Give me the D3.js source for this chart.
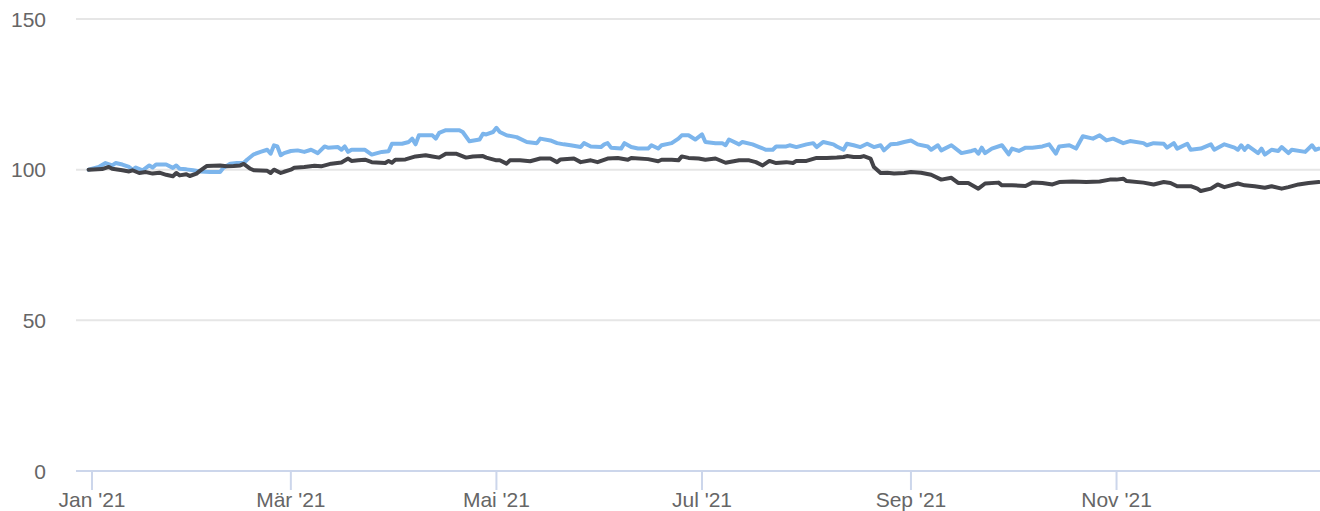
<!doctype html>
<html>
<head>
<meta charset="utf-8">
<script src="https://cdn.jsdelivr.net/npm/d3@7"></script>
<style>
  html, body { margin: 0; padding: 0; background: #fff; }
  svg { display: block; font-family: "Liberation Sans", Arial, sans-serif; }
</style>
</head>
<body>
<svg id="chart" width="1320" height="511"></svg>
<script>
// y axis ticks
var yTicks = [0, 50, 100, 150];

// x axis ticks (every second month) and their German labels
var xTickDates = ["2021-01-01", "2021-03-01", "2021-05-01", "2021-07-01", "2021-09-01", "2021-11-01"];
var xTickLabels = ["Jan '21", "Mär '21", "Mai '21", "Jul '21", "Sep '21", "Nov '21"];

// light blue series
var seriesBlue = [
  ["2020-12-31", 100.0], ["2021-01-03", 100.9], ["2021-01-05", 102.2], ["2021-01-07", 101.4], ["2021-01-08", 102.2],
  ["2021-01-10", 101.7], ["2021-01-12", 100.9], ["2021-01-13", 100.0], ["2021-01-14", 100.7], ["2021-01-16", 99.8],
  ["2021-01-18", 101.4], ["2021-01-19", 100.7], ["2021-01-20", 101.7], ["2021-01-23", 101.7], ["2021-01-25", 100.6],
  ["2021-01-26", 101.4], ["2021-01-27", 100.3], ["2021-01-29", 100.1], ["2021-01-31", 99.8], ["2021-02-02", 99.4],
  ["2021-02-05", 99.2], ["2021-02-08", 99.2], ["2021-02-09", 100.6], ["2021-02-11", 102.0], ["2021-02-13", 102.2],
  ["2021-02-15", 102.2], ["2021-02-16", 103.3], ["2021-02-18", 105.1], ["2021-02-20", 105.9], ["2021-02-22", 106.6],
  ["2021-02-23", 105.3], ["2021-02-24", 108.1], ["2021-02-25", 107.7], ["2021-02-26", 104.8], ["2021-02-27", 105.5],
  ["2021-03-01", 106.2], ["2021-03-03", 106.4], ["2021-03-05", 105.9], ["2021-03-07", 106.6], ["2021-03-09", 105.5],
  ["2021-03-11", 107.7], ["2021-03-12", 107.3], ["2021-03-15", 107.5], ["2021-03-16", 106.6], ["2021-03-17", 107.7],
  ["2021-03-18", 105.9], ["2021-03-19", 106.6], ["2021-03-23", 106.6], ["2021-03-25", 105.0], ["2021-03-28", 105.9],
  ["2021-03-30", 106.1], ["2021-03-31", 108.6], ["2021-04-03", 108.6], ["2021-04-05", 109.2], ["2021-04-06", 110.3],
  ["2021-04-07", 108.4], ["2021-04-08", 111.4], ["2021-04-12", 111.4], ["2021-04-13", 110.3], ["2021-04-14", 112.2],
  ["2021-04-16", 113.1], ["2021-04-20", 113.1], ["2021-04-21", 112.5], ["2021-04-23", 109.4], ["2021-04-26", 110.0],
  ["2021-04-27", 111.9], ["2021-04-28", 111.7], ["2021-04-30", 112.5], ["2021-05-01", 113.9], ["2021-05-02", 112.5],
  ["2021-05-04", 111.4], ["2021-05-07", 110.8], ["2021-05-10", 109.2], ["2021-05-13", 108.8], ["2021-05-14", 110.3],
  ["2021-05-17", 109.7], ["2021-05-19", 108.8], ["2021-05-21", 108.4], ["2021-05-23", 108.1], ["2021-05-26", 107.5],
  ["2021-05-27", 108.8], ["2021-05-29", 107.7], ["2021-06-01", 107.5], ["2021-06-02", 108.4], ["2021-06-03", 108.8],
  ["2021-06-04", 107.3], ["2021-06-07", 107.0], ["2021-06-08", 108.8], ["2021-06-10", 107.5], ["2021-06-12", 107.0],
  ["2021-06-15", 107.0], ["2021-06-16", 108.1], ["2021-06-18", 107.0], ["2021-06-19", 108.1], ["2021-06-22", 108.8],
  ["2021-06-24", 110.3], ["2021-06-25", 111.4], ["2021-06-27", 111.4], ["2021-06-29", 110.0], ["2021-07-01", 111.7],
  ["2021-07-02", 109.2], ["2021-07-05", 108.8], ["2021-07-07", 108.8], ["2021-07-08", 108.1], ["2021-07-09", 110.0],
  ["2021-07-12", 108.4], ["2021-07-13", 109.2], ["2021-07-16", 108.4], ["2021-07-18", 107.5], ["2021-07-20", 106.6],
  ["2021-07-22", 106.6], ["2021-07-23", 107.7], ["2021-07-26", 107.7], ["2021-07-27", 108.1], ["2021-07-29", 107.5],
  ["2021-08-01", 108.4], ["2021-08-03", 108.8], ["2021-08-04", 107.5], ["2021-08-06", 109.2], ["2021-08-09", 108.4],
  ["2021-08-10", 107.7], ["2021-08-12", 106.6], ["2021-08-13", 108.6], ["2021-08-15", 108.1], ["2021-08-17", 107.5],
  ["2021-08-19", 108.6], ["2021-08-21", 107.5], ["2021-08-23", 108.1], ["2021-08-24", 106.4], ["2021-08-26", 108.4],
  ["2021-08-28", 108.6], ["2021-08-30", 109.2], ["2021-09-01", 109.7], ["2021-09-03", 108.4], ["2021-09-06", 107.7],
  ["2021-09-07", 106.6], ["2021-09-09", 108.1], ["2021-09-10", 106.4], ["2021-09-13", 108.1], ["2021-09-16", 105.5],
  ["2021-09-19", 106.2], ["2021-09-20", 106.6], ["2021-09-21", 105.3], ["2021-09-22", 107.3], ["2021-09-23", 105.5],
  ["2021-09-25", 107.0], ["2021-09-28", 108.1], ["2021-09-30", 105.1], ["2021-10-01", 107.0], ["2021-10-03", 106.2],
  ["2021-10-05", 107.3], ["2021-10-07", 107.3], ["2021-10-10", 107.7], ["2021-10-12", 108.4], ["2021-10-14", 105.3],
  ["2021-10-15", 107.7], ["2021-10-18", 108.1], ["2021-10-20", 107.0], ["2021-10-22", 111.1], ["2021-10-25", 110.3],
  ["2021-10-27", 111.4], ["2021-10-29", 109.7], ["2021-10-31", 110.3], ["2021-11-03", 108.8], ["2021-11-05", 109.5],
  ["2021-11-09", 108.8], ["2021-11-10", 108.1], ["2021-11-12", 108.8], ["2021-11-15", 108.6], ["2021-11-16", 107.3],
  ["2021-11-18", 108.8], ["2021-11-19", 107.0], ["2021-11-22", 108.6], ["2021-11-23", 106.6], ["2021-11-26", 107.0],
  ["2021-11-29", 108.4], ["2021-11-30", 106.6], ["2021-12-03", 108.4], ["2021-12-06", 107.3], ["2021-12-07", 106.6],
  ["2021-12-08", 108.1], ["2021-12-09", 106.6], ["2021-12-10", 107.9], ["2021-12-13", 105.5], ["2021-12-14", 107.0],
  ["2021-12-15", 105.0], ["2021-12-17", 106.6], ["2021-12-19", 106.2], ["2021-12-20", 107.5], ["2021-12-22", 105.5],
  ["2021-12-23", 106.6], ["2021-12-27", 105.9], ["2021-12-29", 108.1], ["2021-12-30", 106.6], ["2021-12-31", 107.0]
];

// dark series
var seriesDark = [
  ["2020-12-31", 100.0], ["2021-01-04", 100.2], ["2021-01-06", 100.9], ["2021-01-07", 100.3], ["2021-01-10", 99.8],
  ["2021-01-12", 99.4], ["2021-01-13", 99.8], ["2021-01-15", 98.9], ["2021-01-17", 99.2], ["2021-01-19", 98.7],
  ["2021-01-21", 99.0], ["2021-01-23", 98.3], ["2021-01-25", 97.8], ["2021-01-26", 98.9], ["2021-01-27", 98.1],
  ["2021-01-29", 98.5], ["2021-01-30", 97.9], ["2021-02-01", 98.7], ["2021-02-02", 99.6], ["2021-02-04", 101.2],
  ["2021-02-08", 101.4], ["2021-02-10", 101.1], ["2021-02-12", 101.2], ["2021-02-14", 101.4], ["2021-02-15", 101.9],
  ["2021-02-17", 100.3], ["2021-02-18", 99.8], ["2021-02-22", 99.6], ["2021-02-23", 98.9], ["2021-02-24", 100.0],
  ["2021-02-26", 98.9], ["2021-02-27", 99.3], ["2021-03-01", 100.0], ["2021-03-02", 100.6], ["2021-03-05", 100.9],
  ["2021-03-08", 101.3], ["2021-03-10", 101.1], ["2021-03-13", 102.0], ["2021-03-16", 102.4], ["2021-03-18", 103.7],
  ["2021-03-19", 102.9], ["2021-03-21", 103.1], ["2021-03-23", 103.3], ["2021-03-25", 102.5], ["2021-03-29", 102.2],
  ["2021-03-30", 102.9], ["2021-03-31", 102.3], ["2021-04-01", 103.3], ["2021-04-04", 103.4], ["2021-04-07", 104.4],
  ["2021-04-10", 104.8], ["2021-04-12", 104.4], ["2021-04-14", 104.0], ["2021-04-16", 105.3], ["2021-04-19", 105.3],
  ["2021-04-22", 104.0], ["2021-04-24", 104.4], ["2021-04-27", 104.5], ["2021-04-28", 104.0], ["2021-05-01", 103.1],
  ["2021-05-02", 103.1], ["2021-05-04", 102.0], ["2021-05-05", 103.1], ["2021-05-08", 103.1], ["2021-05-11", 102.8],
  ["2021-05-14", 103.7], ["2021-05-17", 103.7], ["2021-05-19", 102.5], ["2021-05-20", 103.4], ["2021-05-24", 103.7],
  ["2021-05-26", 102.5], ["2021-05-29", 103.1], ["2021-05-31", 102.5], ["2021-06-03", 103.7], ["2021-06-06", 103.9],
  ["2021-06-09", 103.3], ["2021-06-10", 103.9], ["2021-06-15", 103.5], ["2021-06-18", 102.8], ["2021-06-19", 103.3],
  ["2021-06-22", 103.3], ["2021-06-24", 103.1], ["2021-06-25", 104.4], ["2021-06-27", 103.9], ["2021-06-30", 103.7],
  ["2021-07-02", 103.3], ["2021-07-05", 103.7], ["2021-07-08", 102.3], ["2021-07-12", 103.1], ["2021-07-15", 103.1],
  ["2021-07-17", 102.5], ["2021-07-19", 101.4], ["2021-07-21", 102.9], ["2021-07-23", 102.2], ["2021-07-26", 102.5],
  ["2021-07-28", 102.2], ["2021-07-29", 102.9], ["2021-08-01", 102.9], ["2021-08-04", 103.9], ["2021-08-07", 103.9],
  ["2021-08-10", 104.0], ["2021-08-12", 104.2], ["2021-08-13", 104.5], ["2021-08-15", 104.2], ["2021-08-17", 104.2],
  ["2021-08-18", 104.5], ["2021-08-20", 103.7], ["2021-08-21", 100.9], ["2021-08-23", 98.9], ["2021-08-25", 99.0],
  ["2021-08-27", 98.7], ["2021-08-30", 98.9], ["2021-09-01", 99.2], ["2021-09-04", 99.0], ["2021-09-07", 98.3],
  ["2021-09-10", 96.7], ["2021-09-13", 97.3], ["2021-09-15", 95.6], ["2021-09-18", 95.6], ["2021-09-21", 93.7],
  ["2021-09-23", 95.4], ["2021-09-27", 95.7], ["2021-09-28", 94.8], ["2021-10-01", 94.8], ["2021-10-05", 94.6],
  ["2021-10-07", 95.7], ["2021-10-10", 95.6], ["2021-10-13", 95.1], ["2021-10-15", 95.9], ["2021-10-19", 96.1],
  ["2021-10-23", 95.9], ["2021-10-27", 96.1], ["2021-10-30", 96.7], ["2021-11-01", 96.7], ["2021-11-03", 97.0],
  ["2021-11-04", 96.2], ["2021-11-09", 95.7], ["2021-11-12", 95.1], ["2021-11-15", 95.9], ["2021-11-17", 95.6],
  ["2021-11-19", 94.5], ["2021-11-23", 94.5], ["2021-11-25", 93.7], ["2021-11-26", 92.9], ["2021-11-29", 93.7],
  ["2021-12-01", 95.1], ["2021-12-03", 94.2], ["2021-12-07", 95.4], ["2021-12-09", 94.8], ["2021-12-12", 94.5],
  ["2021-12-15", 94.0], ["2021-12-17", 94.5], ["2021-12-20", 93.7], ["2021-12-22", 94.2], ["2021-12-25", 95.1],
  ["2021-12-28", 95.6], ["2021-12-31", 95.9]
];

(function () {
  var parse = d3.timeParse("%Y-%m-%d");
  var svg = d3.select("#chart");

  var plot = { left: 76, right: 1320, top: 19, bottom: 471 };

  // axis runs a few days before the first point, ends at the last one
  var x = d3.scaleTime()
    .domain([new Date(2020, 11, 27, 6), new Date(2021, 11, 31, 9)])
    .range([plot.left, plot.right]);

  var y = d3.scaleLinear()
    .domain([0, 150])
    .range([plot.bottom, plot.top]);

  // horizontal grid
  svg.append("g").attr("class", "grid")
    .selectAll("line")
    .data(yTicks.filter(function (d) { return d > 0; }))
    .enter().append("line")
    .attr("x1", plot.left).attr("x2", plot.right)
    .attr("y1", function (d) { return y(d); })
    .attr("y2", function (d) { return y(d); })
    .attr("stroke", "#e6e6e6")
    .attr("stroke-width", 2);

  // y labels
  svg.append("g").attr("class", "y-labels")
    .selectAll("text")
    .data(yTicks)
    .enter().append("text")
    .attr("x", 46)
    .attr("y", function (d) { return y(d); })
    .attr("dy", "0.36em")
    .attr("text-anchor", "end")
    .attr("fill", "#666666")
    .attr("font-size", "21px")
    .text(function (d) { return d; });

  // x axis line + ticks
  var xa = svg.append("g").attr("class", "x-axis");
  xa.append("line")
    .attr("x1", plot.left).attr("x2", plot.right)
    .attr("y1", plot.bottom).attr("y2", plot.bottom)
    .attr("stroke", "#ccd6eb")
    .attr("stroke-width", 2);

  var ticks = xa.selectAll("g.tick")
    .data(xTickDates.map(function (d, i) { return { date: parse(d), label: xTickLabels[i] }; }))
    .enter().append("g").attr("class", "tick")
    .attr("transform", function (d) { return "translate(" + x(d.date) + ",0)"; });

  ticks.append("line")
    .attr("y1", plot.bottom).attr("y2", plot.bottom + 19)
    .attr("stroke", "#ccd6eb")
    .attr("stroke-width", 2);

  ticks.append("text")
    .attr("y", 507)
    .attr("text-anchor", "middle")
    .attr("fill", "#666666")
    .attr("font-size", "21px")
    .text(function (d) { return d.label; });

  // series
  var line = d3.line()
    .x(function (d) { return x(parse(d[0])); })
    .y(function (d) { return y(d[1]); });

  var series = [
    { data: seriesBlue, color: "#7cb5ec" },
    { data: seriesDark, color: "#434348" }
  ];

  svg.append("g").attr("class", "series")
    .selectAll("path")
    .data(series)
    .enter().append("path")
    .attr("d", function (s) { return line(s.data); })
    .attr("fill", "none")
    .attr("stroke", function (s) { return s.color; })
    .attr("stroke-width", 4)
    .attr("stroke-linejoin", "round")
    .attr("stroke-linecap", "round");
})();
</script>
</body>
</html>
